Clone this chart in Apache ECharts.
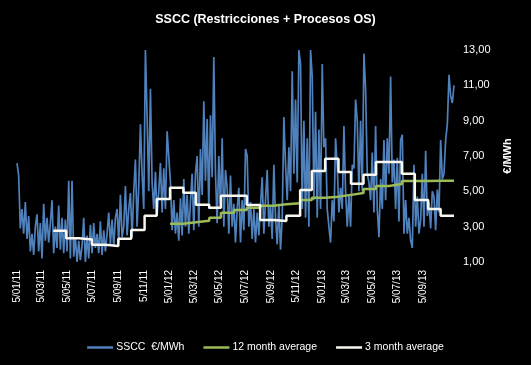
<!DOCTYPE html>
<html>
<head>
<meta charset="utf-8">
<script src="https://cdn.jsdelivr.net/npm/echarts@6/dist/echarts.min.js"></script>
<style>
html,body{margin:0;padding:0;background:#000;}
#chart{width:531px;height:365px;}
</style>
</head>
<body>
<div id="chart"></div>
<script>
// x-axis tick labels (d/mm/yy)
const tickLabels = ['5/01/11','5/03/11','5/05/11','5/07/11','5/09/11','5/11/11','5/01/12','5/03/12','5/05/12','5/07/12','5/09/12','5/11/12','5/01/13','5/03/13','5/05/13','5/07/13','5/09/13'];
const yTicks = [1, 3, 5, 7, 9, 11, 13];

// daily SSCC series, read every 4 days starting 5 Jan 2011
const ssccStart = '2011-01-05';
const ssccStepDays = 4;
const ssccValues = [
  6.6, 5.9, 2.9, 4.0, 2.6, 4.4, 2.3, 3.6, 1.6, 2.6,
  1.4, 3.0, 3.7, 1.6, 3.2, 1.2, 4.3, 2.2, 3.5, 2.1,
  3.2, 4.5, 1.5, 3.0, 1.8, 4.2, 1.7, 3.5, 1.5, 3.4,
  1.6, 5.6, 1.2, 5.6, 1.3, 2.4, 1.0, 2.2, 1.1, 1.9,
  3.5, 1.0, 2.5, 1.2, 3.1, 1.5, 3.2, 1.8, 2.6, 1.5,
  3.3, 1.4, 2.8, 1.6, 2.6, 3.8, 2.0, 3.4, 1.9, 3.5,
  4.0, 2.1, 4.8, 2.4, 3.0, 5.3, 2.5, 4.0, 4.9, 2.4,
  5.0, 6.8, 3.0, 5.3, 8.8, 6.0, 4.0, 13.0, 9.3, 5.0,
  10.8, 5.5, 4.0, 6.1, 3.6, 5.0, 6.6, 3.8, 6.3, 4.0,
  8.4, 8.3, 5.5, 2.8, 4.5, 2.6, 3.8, 2.2, 4.6, 2.5,
  5.7, 3.0, 4.8, 2.6, 4.4, 6.0, 2.8, 6.0, 7.0, 3.0,
  7.4, 4.8, 10.1, 5.6, 9.1, 4.0, 9.3, 5.8, 12.6, 6.0,
  3.2, 7.0, 4.0, 8.0, 3.0, 6.2, 5.2, 2.6, 5.9, 3.0,
  4.3, 2.1, 4.0, 5.2, 2.1, 4.5, 2.8, 7.4, 7.0, 3.0,
  4.4, 2.3, 4.0, 2.1, 3.8, 2.5, 4.2, 5.8, 2.6, 4.5,
  6.2, 3.0, 4.2, 2.3, 6.5, 3.5, 2.0, 4.3, 1.7, 3.5,
  9.2, 6.5, 4.5, 7.5, 5.0, 11.8, 6.0, 10.2, 5.5, 13.0,
  12.2, 4.0, 9.0, 3.5, 8.0, 3.0, 13.0, 11.5, 4.5, 9.5,
  3.5, 8.5, 4.0, 12.2, 7.5, 8.0, 4.0, 3.0, 2.1, 4.5,
  3.3, 8.0, 6.4, 3.8, 5.2, 4.0, 8.7, 5.0, 3.0, 4.8,
  3.0, 6.5, 6.3, 10.2, 9.0, 5.0, 9.0, 5.0, 12.8, 10.8,
  6.0, 5.5, 4.5, 7.2, 3.8, 8.7, 4.0, 2.4, 5.7, 4.0,
  7.9, 4.5, 8.0, 6.0, 11.5, 5.5, 6.8, 4.0, 6.9, 3.3,
  7.9, 8.2, 2.6, 4.5, 2.6, 3.5, 2.2, 1.8, 6.5, 3.0,
  4.7, 2.6, 3.4, 6.0, 3.0, 7.3, 3.6, 4.4, 2.9, 5.0,
  4.7, 2.8, 5.1, 3.8, 7.9, 5.7, 6.0, 7.9, 8.8, 11.6,
  10.4, 10.0, 11.0
];

// monthly step averages: start date of each step, and final end date
const stepDates = ['2011-04-02','2011-05-03','2011-06-03','2011-07-04','2011-08-04','2011-09-05','2011-10-06','2011-11-07','2011-12-06',
  '2012-01-07','2012-02-08','2012-03-09','2012-04-10','2012-05-08','2012-06-09','2012-07-09','2012-08-10','2012-09-11','2012-10-12','2012-11-14','2012-12-12',
  '2013-01-13','2013-02-14','2013-03-16','2013-04-15','2013-05-15','2013-06-15','2013-07-16','2013-08-16','2013-09-17','2013-10-17'];
const endDate = '2013-11-18';
const avg3 = [2.77, 2.34, 2.28, 1.98, 1.91, 2.32, 2.81, 3.62, 4.57,
  5.20, 4.92, 4.24, 4.07, 4.75, 4.75, 4.23, 3.38, 3.32, 3.62, 5.07, 6.15,
  6.85, 6.09, 5.43, 5.94, 6.66, 6.66, 6.00, 4.51, 4.00, 3.62];
const avg12Offset = 9; // 12-month average starts at stepDates[9]
const avg12 = [3.17, 3.25, 3.34, 3.51, 3.79, 3.94, 4.07, 4.19, 4.27, 4.32, 4.51, 4.64,
  4.70, 4.80, 4.90, 5.13, 5.30, 5.41, 5.58, 5.58, 5.60, 5.60];

function iso(s){ const p = s.split('-').map(Number); return Date.UTC(p[0], p[1]-1, p[2]); }
function dmy(s){ const p = s.split('/').map(Number); return Date.UTC(2000+p[2], p[1]-1, p[0]); }
const DAY = 86400000;

const t0 = iso(ssccStart);
const ssccData = ssccValues.map((v, i) => [t0 + i * ssccStepDays * DAY, v]);

function stepSeries(values, offset){
  const d = values.map((v, i) => [iso(stepDates[offset + i]), v]);
  d.push([iso(endDate), values[values.length - 1]]);
  return d;
}

const tickTimes = tickLabels.map(dmy);
const FONT = 'Liberation Sans, Arial, sans-serif';

const chart = echarts.init(document.getElementById('chart'), null, {renderer: 'canvas'});
chart.setOption({
  backgroundColor: '#000000',
  animation: false,
  title: {
    text: 'SSCC (Restricciones + Procesos OS)',
    left: 'center', top: 8,
    textStyle: {color: '#ffffff', fontSize: 12.5, fontWeight: 'bold', fontFamily: FONT}
  },
  legend: {
    bottom: 7, left: 'center',
    itemWidth: 26, itemHeight: 2.5, itemGap: 19,
    icon: 'rect',
    textStyle: {color: '#ffffff', fontSize: 10.5, fontFamily: FONT, padding: [0, 0, 0, -2]},
    data: ['SSCC  €/MWh', '12 month average', '3 month average']
  },
  grid: {left: 17, right: 77, top: 50, bottom: 103},
  xAxis: {
    type: 'value',
    min: iso(ssccStart), max: iso(endDate),
    axisLine: {show: false}, axisTick: {show: false}, splitLine: {show: false},
    axisLabel: {
      customValues: tickTimes,
      rotate: 90, margin: 8,
      color: '#ffffff', fontSize: 10, fontFamily: FONT,
      formatter: function (val) {
        let best = 0;
        for (let i = 1; i < tickTimes.length; i++) {
          if (Math.abs(tickTimes[i] - val) < Math.abs(tickTimes[best] - val)) best = i;
        }
        return tickLabels[best];
      }
    }
  },
  yAxis: {
    type: 'value', position: 'right',
    min: yTicks[0], max: yTicks[yTicks.length - 1], interval: 2,
    axisLine: {show: false}, axisTick: {show: false}, splitLine: {show: false},
    axisLabel: {color: '#ffffff', fontSize: 11, fontFamily: FONT, margin: 9,
      formatter: v => v.toFixed(2).replace('.', ',')},
    name: '€/MWh', nameLocation: 'middle', nameRotate: 90, nameGap: 48,
    nameTextStyle: {color: '#ffffff', fontSize: 11, fontWeight: 'bold', fontFamily: FONT}
  },
  series: [
    {
      name: 'SSCC  €/MWh', type: 'line', data: ssccData, symbol: 'none',
      lineStyle: {color: '#4F81BD', width: 1.7}, itemStyle: {color: '#4F81BD'}
    },
    {
      name: '12 month average', type: 'line', step: 'end', data: stepSeries(avg12, avg12Offset), symbol: 'none',
      lineStyle: {color: '#9BBB59', width: 2.5}, itemStyle: {color: '#9BBB59'}
    },
    {
      name: '3 month average', type: 'line', step: 'end', data: stepSeries(avg3, 0), symbol: 'none',
      lineStyle: {color: '#F8F8F0', width: 2.5}, itemStyle: {color: '#F8F8F0'}
    }
  ]
});
</script>
</body>
</html>
